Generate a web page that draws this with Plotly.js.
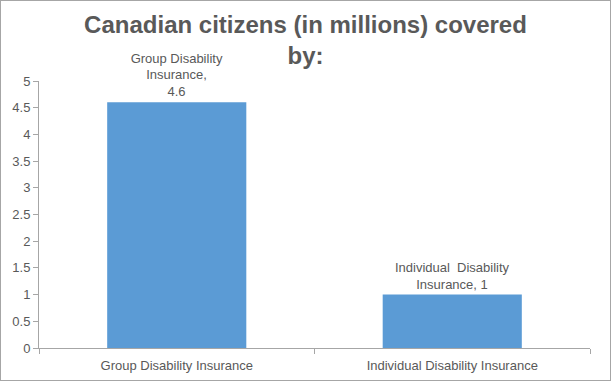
<!DOCTYPE html>
<html><head><meta charset="utf-8">
<script src="https://cdn.plot.ly/plotly-3.0.1.min.js"></script>
<style>
html,body{margin:0;padding:0;background:#fff;}
#chart{width:611px;height:381px;box-sizing:border-box;border:1px solid #a6a6a6;}
</style></head>
<body><div id="chart"></div>
<script>
const categories = ["Group Disability Insurance", "Individual Disability Insurance"];
const values = [4.6, 1];
const barLabels = ["Group Disability<br>Insurance,<br>4.6", "Individual  Disability<br>Insurance, 1"];
const titleText = "Canadian citizens (in millions) covered<br>by:";

const fontFam = "Liberation Sans, Arial, sans-serif";
const trace = {
  type: "bar",
  x: categories,
  y: values,
  text: barLabels,
  textposition: "outside",
  cliponaxis: false,
  textfont: {family: fontFam, size: 13, color: "#595959"},
  marker: {color: "#5B9BD5"},
  hoverinfo: "none"
};
const layout = {
  width: 609, height: 379,
  margin: {l: 38, r: 20, t: 80, b: 32},
  paper_bgcolor: "#fff", plot_bgcolor: "#fff",
  bargap: 0.495,
  showlegend: false,
  title: {text: titleText, x: 0.5, xanchor: "center", xref: "container", yref: "container", y: 0.916, yanchor: "middle",
    font: {family: fontFam, size: 24, color: "#595959", weight: "bold"}},
  xaxis: {type: "category", showline: true, linecolor: "#a6a6a6", linewidth: 1,
    ticks: "outside", tickson: "boundaries", ticklen: 5, tickcolor: "#a6a6a6", ticklabelstandoff: 5,
    tickfont: {family: fontFam, size: 13, color: "#595959"},
    showgrid: false, zeroline: false},
  yaxis: {range: [0, 5], dtick: 0.5, tick0: 0, showline: true, linecolor: "#a6a6a6", linewidth: 1,
    ticks: "outside", ticklen: 5, tickcolor: "#a6a6a6", showgrid: false, zeroline: false,
    tickfont: {family: fontFam, size: 13, color: "#595959"}}
};
Plotly.newPlot("chart", [trace], layout, {displayModeBar: false, staticPlot: true});
</script></body></html>
